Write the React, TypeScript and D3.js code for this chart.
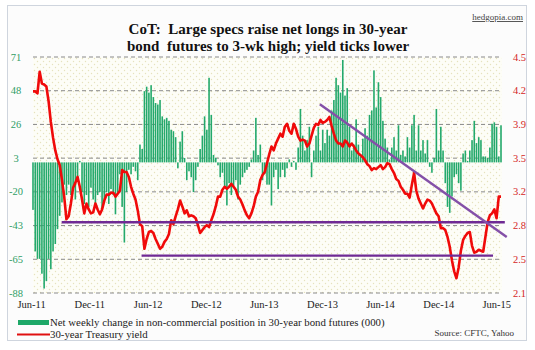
import React, { useEffect, useRef } from "react";
import * as d3 from "d3";

// weekly net change in non-commercial position, 30-yr bond futures (000)
const netChange = [
  -32, -60, -65, -65, -75, -85, -80, -65, -72, -60, -55, -45, -36, -27, -15, -22, -15, -22, -18, -25,
  -12, 1, -20, -28, -22, -30, -17, -25, -28, -22, -20, -32, -25, -20, -28, -18, -22, -35, -20, -8,
  -30, -54, -20, -5, -8, -3, -6, -12, 12, 9, 48, 51, 47, 52, 44, 40, 39, 42, 31,
  29, 30, 28, 22, 21, 17, -4, 14, 21, 3, -12, -6, -10, -20, -12, -3, 9, 18, 31, 22,
  57, 32, 5, 3, -2,
  -10, -7, -16, -29, -14, -22, -16, -12, -25, -15, -10, -7, -5, -3,
  2, 8, 30, 5, 12, -12, -8, -15, -15, -29, -10, -5, -18, -10, -5, -10, -4, 2, -3, 1,
  -5, 10, 36, 18, 8, 15, 24, -10, 8, 18,
  24, 8, 22, 13, 22, 18, 35, 42, 57, 52, 47, 69, 45, 50, 24, 8, 12, 29, 12,
  4, 16, 23, 18, 32, 35, 62, 37, 54, 44, 28, 16, 10, 2, 10, 17, 8, 25, 5, 8,
  4, 17, 10, 25, 32,
  8, 25, 8, 15, 6, 15, -3, -7, 3, 36, 8, 24, 8, -14,
  -30, -34, -23, -10, -8, -14, -19, 6, 8, 1, 8, 15, 28, 13, 17, 15, 4, 4, 3, 10,
  26, 27, 24, 4, 25,
];

// 30-year Treasury yield (%)
const yield30 = [
  4.15, 4.15, 4.13, 4.35, 4.23, 4.22, 4.2, 4.05, 3.84, 3.68, 3.55, 3.46, 3.4, 3.25, 3.08, 2.85, 2.88, 3.01, 3.17, 3.22,
  3.28, 3.18, 3.05, 2.91, 3.01, 2.95, 2.91, 2.92, 3.01, 2.95, 2.9, 2.95, 3.04, 3.1, 3.1, 3.12, 3.12, 3.08, 3.11, 3.14,
  3.35, 3.33, 3.33, 3.28, 3.18, 3.11, 3.05, 2.94, 2.8, 2.78, 2.55, 2.65, 2.72, 2.73, 2.71, 2.65, 2.6, 2.55, 2.57,
  2.62, 2.65, 2.7, 2.84, 2.8, 2.88, 2.95, 3.04, 2.98, 2.91, 2.94, 2.88, 2.89, 2.88, 2.86, 2.79, 2.71, 2.74, 2.77, 2.79,
  2.77, 2.84, 2.9, 2.98, 3.08,
  3.08, 3.15, 3.18, 3.16, 3.18, 3.21, 3.18, 3.15, 3.08, 3.05, 3.0, 2.94, 2.89, 2.86,
  2.91, 2.98, 3.08, 3.13, 3.25, 3.3, 3.33, 3.42, 3.51, 3.59, 3.55, 3.62, 3.67, 3.72, 3.69, 3.79, 3.82, 3.75, 3.72, 3.82,
  3.77, 3.69, 3.65, 3.66, 3.65, 3.59, 3.62, 3.7, 3.78, 3.82,
  3.81, 3.86, 3.83, 3.84, 3.86, 3.89, 3.8, 3.72, 3.65, 3.62, 3.62, 3.59, 3.65, 3.63, 3.59, 3.62, 3.59, 3.55, 3.52,
  3.5, 3.48, 3.45, 3.41, 3.39, 3.35, 3.37, 3.36, 3.38, 3.4, 3.36, 3.38, 3.42, 3.41, 3.36, 3.32, 3.26, 3.24, 3.18, 3.15,
  3.11, 3.11, 3.07, 3.2, 3.32,
  3.14, 3.06, 3.01, 2.96, 3.01, 3.05, 3.04, 3.01, 2.96, 2.91, 2.88, 2.76, 2.76, 2.74,
  2.67, 2.57, 2.43, 2.32, 2.25, 2.36, 2.53, 2.64, 2.68, 2.71, 2.72, 2.58, 2.51, 2.52, 2.54, 2.53, 2.52, 2.67, 2.82, 2.89,
  2.91, 2.95, 2.86, 3.08, 3.08,
];

const leftTickLabels = ["-88", "-65", "-43", "-20", "3", "26", "48", "71"];
const rightTickLabels = ["2.1", "2.5", "2.8", "3.2", "3.5", "3.9", "4.2", "4.5"];
const dateTicks = ["2011-06-01", "2011-12-01", "2012-06-01", "2012-12-01", "2013-06-01", "2013-12-01", "2014-06-01", "2014-12-01", "2015-06-01"];

// support / resistance lines drawn on the yield
const trendLines = [
  { from: "2011-09-05", to: "2015-06-28", y0: 2.82, y1: 2.82, color: "#6f2a94" },
  { from: "2012-05-13", to: "2015-05-22", y0: 2.48, y1: 2.48, color: "#6f2a94" },
  { from: "2013-11-24", to: "2015-07-04", y0: 4.02, y1: 2.67, color: "#8450a8" },
];

const FONT = "'Times New Roman', 'Liberation Serif', serif";

const App = () => {
  const svgRef = useRef(null);
  const width = 535;
  const height = 350;

  useEffect(() => {
    const svg = d3.select(svgRef.current);
    svg.selectAll("*").remove();

    const parse = d3.timeParse("%Y-%m-%d");
    const start = parse("2011-06-07");
    const dates = netChange.map((_, i) => d3.timeWeek.offset(start, i));

    const plot = { left: 33, right: 502, top: 57, bottom: 293 };

    const x = d3
      .scaleTime()
      .domain([dates[0], dates[dates.length - 1]])
      .range([33, 501]);
    const yLeft = d3.scaleLinear().domain([-88, 71]).range([plot.bottom, plot.top]);
    const yRight = d3.scaleLinear().domain([2.1, 4.5]).range([plot.bottom, plot.top]);

    // background pattern
    const defs = svg.append("defs");
    const pat = defs
      .append("pattern")
      .attr("id", "dots")
      .attr("width", 6)
      .attr("height", 6)
      .attr("patternUnits", "userSpaceOnUse");
    pat.append("rect").attr("width", 6).attr("height", 6).attr("fill", "#fdfdf7");
    pat.append("circle").attr("cx", 1.5).attr("cy", 1.5).attr("r", 0.7).attr("fill", "#e6e2bd");
    pat.append("circle").attr("cx", 4.5).attr("cy", 4.5).attr("r", 0.7).attr("fill", "#e6e2bd");

    svg
      .append("rect")
      .attr("x", 7.5)
      .attr("y", 5.5)
      .attr("width", 519)
      .attr("height", 335)
      .attr("fill", "#fcfcfc")
      .attr("stroke", "#cfd5de");

    svg
      .append("rect")
      .attr("x", plot.left)
      .attr("y", plot.top)
      .attr("width", plot.right - plot.left)
      .attr("height", plot.bottom - plot.top)
      .attr("fill", "url(#dots)");

    // grid lines, evenly spaced like the Excel original
    const gridVals = d3.range(8).map((k) => -88 + (k * 159) / 7);
    svg
      .append("g")
      .selectAll("line")
      .data(gridVals)
      .enter()
      .append("line")
      .attr("x1", plot.left)
      .attr("x2", plot.right)
      .attr("y1", (d) => yLeft(d))
      .attr("y2", (d) => yLeft(d))
      .attr("stroke", "#8a8a8a")
      .attr("stroke-dasharray", "4,3");

    // left axis labels
    svg
      .append("g")
      .selectAll("text")
      .data(gridVals)
      .enter()
      .append("text")
      .attr("x", 16)
      .attr("y", (d) => yLeft(d) + 3.5)
      .attr("text-anchor", "middle")
      .attr("font-family", FONT)
      .attr("font-size", 10.5)
      .attr("fill", "#2f9e66")
      .text((d, i) => leftTickLabels[i]);

    // right axis labels
    svg
      .append("g")
      .selectAll("text")
      .data(gridVals)
      .enter()
      .append("text")
      .attr("x", 519.5)
      .attr("y", (d) => yLeft(d) + 3.5)
      .attr("text-anchor", "middle")
      .attr("font-family", FONT)
      .attr("font-size", 10.5)
      .attr("fill", "#d42626")
      .text((d, i) => rightTickLabels[i]);

    // date axis
    const xAxis = d3
      .axisBottom(x)
      .tickValues(dateTicks.map(parse))
      .tickFormat(d3.timeFormat("%b-%y"))
      .tickSize(0)
      .tickPadding(0);
    const xg = svg.append("g").attr("transform", "translate(0, 301)").call(xAxis);
    xg.select(".domain").remove();
    xg.selectAll("text")
      .attr("font-family", FONT)
      .attr("font-size", 10.5)
      .attr("fill", "#222")
      .attr("dy", "0.71em");

    // bars
    svg
      .append("g")
      .selectAll("rect")
      .data(netChange)
      .enter()
      .append("rect")
      .attr("x", (d, i) => x(dates[i]) - 0.8)
      .attr("y", (d) => yLeft(Math.max(0, d)))
      .attr("width", 1.6)
      .attr("height", (d) => Math.abs(yLeft(d) - yLeft(0)))
      .attr("fill", "#23a96c");

    // yield line
    const line = d3
      .line()
      .x((d, i) => x(dates[i]))
      .y((d) => yRight(d));
    svg
      .append("path")
      .datum(yield30)
      .attr("d", line)
      .attr("fill", "none")
      .attr("stroke", "#f00a0a")
      .attr("stroke-width", 2.6)
      .attr("stroke-linejoin", "round");

    // trend lines
    svg
      .append("g")
      .selectAll("line")
      .data(trendLines)
      .enter()
      .append("line")
      .attr("x1", (d) => x(parse(d.from)))
      .attr("x2", (d) => x(parse(d.to)))
      .attr("y1", (d) => yRight(d.y0))
      .attr("y2", (d) => yRight(d.y1))
      .attr("stroke", (d) => d.color)
      .attr("stroke-width", 2.4);

    // title
    const title = svg
      .append("text")
      .attr("text-anchor", "middle")
      .attr("font-family", FONT)
      .attr("font-weight", "bold")
      .attr("font-size", 15)
      .attr("fill", "#111")
      .style("white-space", "pre");
    title.append("tspan").attr("x", 268).attr("y", 34).text("CoT:  Large specs raise net longs in 30-year");
    title.append("tspan").attr("x", 268).attr("y", 51).text("bond  futures to 3-wk high; yield ticks lower");

    svg
      .append("text")
      .attr("x", 523)
      .attr("y", 20)
      .attr("text-anchor", "end")
      .attr("font-family", FONT)
      .attr("font-size", 9)
      .attr("text-decoration", "underline")
      .attr("fill", "#444")
      .text("hedgopia.com");

    // legend
    svg.append("rect").attr("x", 18).attr("y", 320).attr("width", 31).attr("height", 5).attr("fill", "#1ea868");
    svg
      .append("line")
      .attr("x1", 17)
      .attr("x2", 50)
      .attr("y1", 334.5)
      .attr("y2", 334.5)
      .attr("stroke", "#e01010")
      .attr("stroke-width", 2);
    const legendText = [
      { y: 326, t: "Net weekly change in non-commercial position in 30-year bond futures (000)" },
      { y: 338, t: "30-year Treasury yield" },
    ];
    svg
      .append("g")
      .selectAll("text")
      .data(legendText)
      .enter()
      .append("text")
      .attr("x", 50)
      .attr("y", (d) => d.y)
      .attr("font-family", FONT)
      .attr("font-size", 10.8)
      .attr("fill", "#222")
      .text((d) => d.t);

    svg
      .append("text")
      .attr("x", 514)
      .attr("y", 336)
      .attr("text-anchor", "end")
      .attr("font-family", FONT)
      .attr("font-size", 9)
      .attr("fill", "#333")
      .text("Source: CFTC, Yahoo");
  }, []);

  return (
    <svg
      ref={svgRef}
      width={width}
      height={height}
      style={{ position: "absolute", left: 0, top: 0, background: "#fff" }}
    ></svg>
  );
};

export default App;
